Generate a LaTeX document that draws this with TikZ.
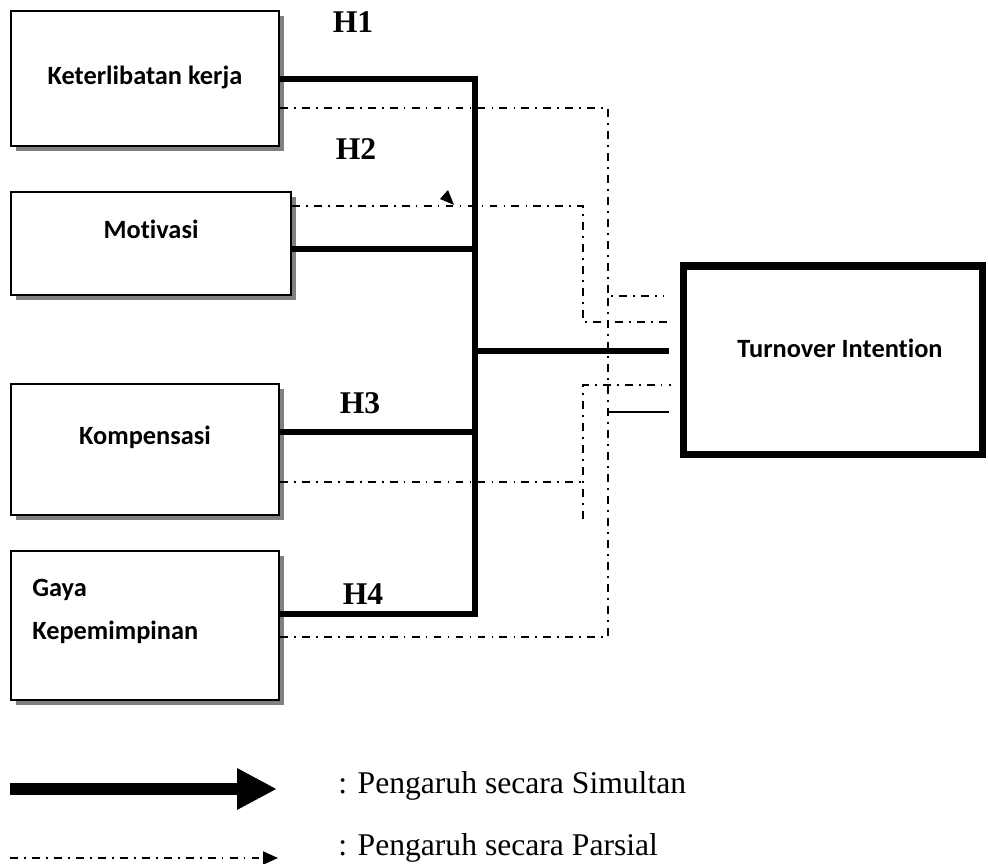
\documentclass[tikz,border=0pt]{standalone}
\usepackage{fontspec}
\setmainfont{Liberation Serif}
\newfontfamily\calibrifont[Ligatures={NoCommon,NoRare,NoContextual}]{Carlito}
\usetikzlibrary{arrows.meta,shadows}
\tikzset{TOvar/.style={draw,line width=1pt,fill=white,inner sep=0pt,
           drop shadow={shadow xshift=2.8pt,shadow yshift=-2.8pt,fill=black!50,opacity=1}},
         TOdep/.style={draw,line width=4pt,fill=white,inner sep=0pt},
         TOlab/.style={font=\calibrifont\bfseries\fontsize{15}{18}\selectfont,inner sep=0pt},
         TOh/.style={font=\bfseries\fontsize{18}{21}\selectfont,inner sep=0pt},
         TOsim/.style={line width=3pt,line join=miter},
         TOpar/.style={line width=1pt,dash pattern=on 4.5pt off 3.5pt on 1pt off 3.5pt},
         TOleg/.style={font=\fontsize{18}{21}\selectfont,inner sep=0pt,anchor=base west}}

\begin{document}
\begin{tikzpicture}[x=0.02cm,y=-0.02cm]
    \useasboundingbox (0,0) rectangle (988,864);
    \node[TOvar,minimum width=5.36cm,minimum height=2.7cm] (kerja) at (145,78.5) {};
    \node[TOvar,minimum width=5.6cm,minimum height=2.06cm] (motiv) at (151,243.5) {};
    \node[TOvar,minimum width=5.36cm,minimum height=2.62cm] (komp) at (145,449.5) {};
    \node[TOvar,minimum width=5.36cm,minimum height=2.98cm] (gaya) at (145,625.5) {};
    \node[TOdep,minimum width=6cm,minimum height=3.78cm] (turn) at (833,360.5) {};
    \node[TOlab] (kerjaT) at (145,77) {Keterlibatan kerja};
    \node[TOlab] (motivT) at (151,229) {Motivasi};
    \node[TOlab] (kompT) at (145,437) {Kompensasi};
    \node[TOlab,anchor=west] (gayaT) at (32,590) {Gaya};
    \node[TOlab,anchor=west] (gayaU) at (32,632) {Kepemimpinan};
    \node[TOlab] (turnT) at (840,348) {Turnover Intention};
    \foreach \x/\y/\n/\l in {353/22/hA/H1,356/149/hB/H2,360/403/hC/H3,363/594/hD/H4}
      {\node[TOh] (\n) at (\x,\y) {\l};}
    % simultan
    \coordinate (bK) at (475,79); \coordinate (bM) at (475,249);
    \coordinate (bC) at (475,432); \coordinate (bG) at (475,614);
    \coordinate (bT) at (475,351);
    \draw[TOsim] (kerja.east |- bK) -- (bK) -- (bG) -- (gaya.east |- bG);
    \draw[TOsim] (motiv.east |- bM) -- (bM);
    \draw[TOsim] (komp.east |- bC) -- (bC);
    \draw[TOsim,shorten >=6pt] (bT) -- (turn.west |- bT);
    % parsial
    \coordinate (pK) at (608,108); \coordinate (pM) at (583,206);
    \coordinate (pC) at (583,482); \coordinate (pG) at (608,637);
    \coordinate (pE) at (583,519);
    \coordinate (sA) at (608,296); \coordinate (sB) at (583,322);
    \coordinate (sC) at (583,385); \coordinate (sD) at (608,412);
    \draw[TOpar,shorten >=9pt] (kerja.east |- pK) -- (pK) -- (sA) -- (turn.west |- sA);
    \draw[TOpar,shorten >=5pt] (motiv.east |- pM) -- (pM) -- (sB) -- (turn.west |- sB);
    \draw[TOpar] (komp.east |- pC) -- (pC);
    \draw[TOpar,shorten >=5pt] (pE) -- (sC) -- (turn.west |- sC);
    \draw[TOpar] (gaya.east |- pG) -- (pG) -- (sA);
    \draw[line width=1pt,shorten >=6pt] (sD) -- (turn.west |- sD);
    \fill (440,199) -- (448,190) -- (454,205) -- cycle;
    % legend
    \coordinate (lsA) at (10,789); \coordinate (lsB) at (277,789);
    \coordinate (lpA) at (10,858); \coordinate (lpB) at (278,858);
    \draw[line width=6.8pt,-{Triangle[length=22.7pt,width=22pt]}] (lsA) -- (lsB);
    \draw[TOpar,-{Triangle[length=8.5pt,width=7.4pt]}] (lpA) -- (lpB);
    \node[TOleg] (legS) at (338,794) {: Pengaruh secara Simultan};
    \node[TOleg] (legP) at (338,856) {: Pengaruh secara Parsial};
  \end{tikzpicture}
\end{document}
